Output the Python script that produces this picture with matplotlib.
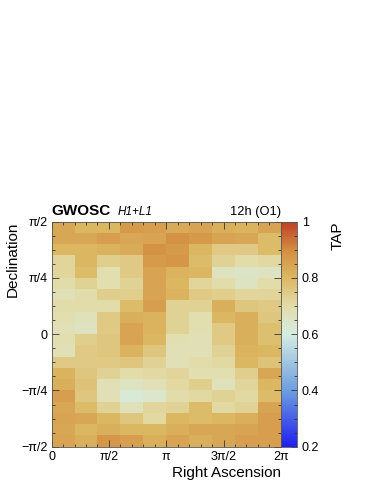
import numpy as np
import matplotlib.pyplot as plt
from matplotlib.colors import LinearSegmentedColormap
from matplotlib.ticker import MultipleLocator

plt.rcParams['font.family'] = ['Liberation Sans', 'DejaVu Sans']

# TAP per sky bin, rows from dec = +pi/2 (top) down to -pi/2, columns in RA 0..2pi
tap_rows = [
    [0.84, 0.80, 0.80, 0.87, 0.86, 0.83, 0.85, 0.82, 0.81, 0.85],
    [0.84, 0.84, 0.86, 0.84, 0.85, 0.89, 0.87, 0.85, 0.84, 0.79],
    [0.80, 0.80, 0.81, 0.83, 0.89, 0.87, 0.80, 0.75, 0.75, 0.79],
    [0.72, 0.80, 0.74, 0.75, 0.87, 0.88, 0.79, 0.73, 0.70, 0.71],
    [0.72, 0.79, 0.69, 0.75, 0.85, 0.81, 0.80, 0.66, 0.65, 0.66],
    [0.70, 0.73, 0.69, 0.73, 0.85, 0.80, 0.72, 0.70, 0.66, 0.70],
    [0.68, 0.70, 0.74, 0.74, 0.85, 0.81, 0.75, 0.74, 0.72, 0.72],
    [0.70, 0.70, 0.70, 0.79, 0.86, 0.73, 0.73, 0.82, 0.76, 0.75],
    [0.69, 0.67, 0.75, 0.82, 0.81, 0.73, 0.69, 0.80, 0.82, 0.76],
    [0.68, 0.66, 0.75, 0.85, 0.81, 0.73, 0.69, 0.75, 0.82, 0.78],
    [0.69, 0.74, 0.76, 0.85, 0.80, 0.69, 0.68, 0.75, 0.82, 0.78],
    [0.68, 0.75, 0.76, 0.81, 0.76, 0.68, 0.68, 0.73, 0.81, 0.80],
    [0.75, 0.75, 0.75, 0.76, 0.73, 0.68, 0.70, 0.71, 0.80, 0.77],
    [0.81, 0.76, 0.73, 0.70, 0.71, 0.72, 0.69, 0.69, 0.74, 0.84],
    [0.82, 0.77, 0.68, 0.66, 0.68, 0.71, 0.74, 0.67, 0.72, 0.80],
    [0.86, 0.76, 0.68, 0.62, 0.64, 0.70, 0.71, 0.73, 0.71, 0.79],
    [0.84, 0.79, 0.73, 0.67, 0.72, 0.73, 0.79, 0.71, 0.73, 0.85],
    [0.85, 0.84, 0.80, 0.76, 0.71, 0.80, 0.79, 0.80, 0.82, 0.86],
    [0.84, 0.80, 0.82, 0.80, 0.80, 0.82, 0.84, 0.84, 0.85, 0.86],
    [0.85, 0.82, 0.88, 0.86, 0.82, 0.85, 0.82, 0.84, 0.86, 0.86],
]
ra_ticks = [0, np.pi / 2, np.pi, 3 * np.pi / 2, 2 * np.pi]
ra_labels = ['0', 'π/2', 'π', '3π/2', '2π']
dec_ticks = [-np.pi / 2, -np.pi / 4, 0, np.pi / 4, np.pi / 2]
dec_labels = ['−π/2', '−π/4', '0', 'π/4', 'π/2']
z_ticks = [0.2, 0.4, 0.6, 0.8, 1.0]
z_labels = ['0.2', '0.4', '0.6', '0.8', '1']

tap = np.array(tap_rows)[::-1]  # bottom row first for pcolormesh
ra_edges = np.linspace(0, 2 * np.pi, tap.shape[1] + 1)
dec_edges = np.linspace(-np.pi / 2, np.pi / 2, tap.shape[0] + 1)

cmap = LinearSegmentedColormap.from_list('tap', [
    (0.00, '#2020ee'),
    (0.25, '#6c9ee0'),
    (0.50, '#d6ede2'),
    (0.625, '#e2dcaa'),
    (0.75, '#dcb862'),
    (0.875, '#d38e42'),
    (1.00, '#bf3f26'),
])

fig = plt.figure(figsize=(3.74, 4.84), dpi=100)
ax = fig.add_axes([0.138, 0.077, 0.613, 0.465])
cax = fig.add_axes([0.751, 0.077, 0.043, 0.465])

mesh = ax.pcolormesh(ra_edges, dec_edges, tap, cmap=cmap, vmin=0.2, vmax=1.0)
ax.set_xlim(0, 2 * np.pi)
ax.set_ylim(-np.pi / 2, np.pi / 2)

ax.set_xticks(ra_ticks)
ax.set_xticklabels(ra_labels, fontsize=9)
ax.set_yticks(dec_ticks)
ax.set_yticklabels(dec_labels, fontsize=9)
ax.xaxis.set_minor_locator(MultipleLocator(np.pi / 10))
ax.yaxis.set_minor_locator(MultipleLocator(np.pi / 16))
ax.tick_params(which='both', direction='in', top=True, right=True, color='#333333', width=0.6)
ax.tick_params(which='major', length=5, pad=3)
ax.tick_params(which='minor', length=2.5)
for s in ax.spines.values():
    s.set_linewidth(0.6)
    s.set_color('#555555')

ax.set_xlabel('Right Ascension', fontsize=11, loc='right', labelpad=2)
ax.set_ylabel('Declination', fontsize=11, loc='top', labelpad=1)

ax.text(0.0, 1.015, 'GWOSC', transform=ax.transAxes, fontsize=11, fontweight='bold',
        ha='left', va='bottom')
ax.text(0.29, 1.015, 'H1+L1', transform=ax.transAxes, fontsize=8.5, style='italic',
        ha='left', va='bottom')
ax.text(1.0, 1.015, '12h (O1)', transform=ax.transAxes, fontsize=9.3,
        ha='right', va='bottom')

cb = fig.colorbar(mesh, cax=cax)
cb.set_ticks(z_ticks)
cb.set_ticklabels(z_labels)
cb.ax.yaxis.set_minor_locator(MultipleLocator(0.05))
cb.ax.tick_params(which='both', direction='in', labelsize=9, color='#333333', width=0.6)
cb.ax.tick_params(which='major', length=4)
cb.ax.tick_params(which='minor', length=2)
cb.outline.set_linewidth(0.6)
cb.outline.set_edgecolor('#555555')
cb.set_label('TAP', fontsize=11, loc='top', labelpad=8)

fig.savefig('out.png', dpi=100)
